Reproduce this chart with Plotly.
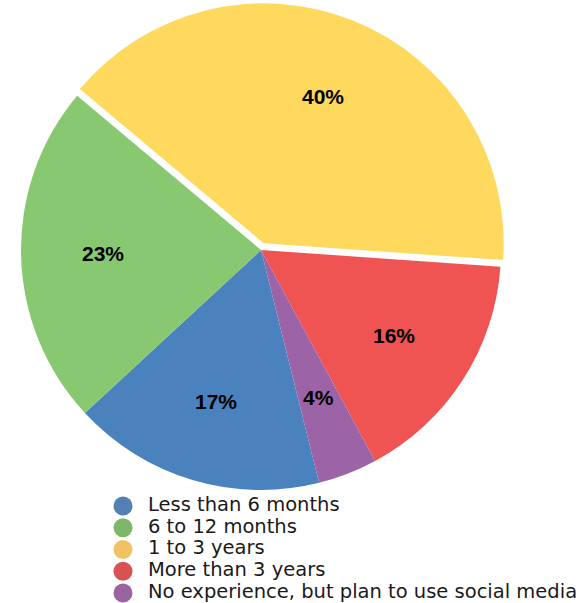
import math
import plotly.graph_objects as go

# Survey: experience using social media
categories = [
    "Less than 6 months",
    "6 to 12 months",
    "1 to 3 years",
    "More than 3 years",
    "No experience, but plan to use social media",
]
shares = [17, 23, 40, 16, 4]
slice_colors = ["#4A82BE", "#87C870", "#FFD95E", "#EF5452", "#9C64A6"]
legend_colors = ["#5380B4", "#7DB86A", "#F2C262", "#D95252", "#9A64A0"]
pulls = [0, 0, 0.03, 0, 0]

W, H = 584, 603
ROTATION = 166           # start of first slice, degrees clockwise from 12 o'clock
CX, CY, R = 261, 250, 240  # pie centre / radius in pixels
LABEL_FRAC = 0.66        # radial position of the percentage labels

half = R * (1 + max(pulls))


def clamp(v):
    return min(1.0, max(0.0, v))


fig = go.Figure()

fig.add_trace(go.Pie(
    labels=categories,
    values=shares,
    sort=False,
    direction="clockwise",
    rotation=ROTATION,
    pull=pulls,
    marker=dict(colors=slice_colors, line=dict(width=0)),
    textinfo="none",
    showlegend=False,
    hoverinfo="label+percent",
    domain=dict(x=[clamp((CX - half) / W), clamp((CX + half) / W)],
                y=[clamp(1 - (CY + half) / H), clamp(1 - (CY - half) / H)]),
))

# percentage labels placed at each slice's mid-angle
total = sum(shares)
start = ROTATION
for v, p in zip(shares, pulls):
    sweep = 360 * v / total
    mid = math.radians(start + sweep / 2)
    rr = R * (LABEL_FRAC + p)
    fig.add_annotation(
        xref="paper", yref="paper",
        x=(CX + rr * math.sin(mid)) / W,
        y=1 - (CY - rr * math.cos(mid)) / H,
        text=f"{round(100 * v / total)}%",
        showarrow=False,
        font=dict(family="Liberation Sans", size=21, color="black", weight="bold"),
        xanchor="center", yanchor="middle",
    )
    start += sweep

# Legend drawn as a column of round swatches with labels beside them.
# Axes are in pixel-like units: one row per category, 21.75 px apart.
row_y = [-i for i in range(len(categories))]
row_h = 21.75
first_row_px = 506
swatch_px = 123

fig.add_trace(go.Scatter(
    x=[0] * len(categories), y=row_y,
    mode="markers",
    marker=dict(symbol="circle", size=19, color=legend_colors, line=dict(width=0)),
    hoverinfo="skip", showlegend=False,
))
fig.add_trace(go.Scatter(
    x=[25] * len(categories), y=row_y,
    mode="text",
    text=categories,
    textposition="middle right",
    textfont=dict(family="DejaVu Sans", size=19.5, color="#1a1a1a"),
    hoverinfo="skip", showlegend=False,
))

fig.update_layout(
    width=W, height=H,
    margin=dict(l=0, r=0, t=0, b=0),
    paper_bgcolor="white",
    plot_bgcolor="rgba(0,0,0,0)",
    showlegend=False,
    xaxis=dict(visible=False, range=[-swatch_px, W - swatch_px], domain=[0, 1], fixedrange=True),
    yaxis=dict(visible=False,
               range=[-(H - first_row_px) / row_h, first_row_px / row_h],
               domain=[0, 1], fixedrange=True),
)

fig.write_html("out.html")
